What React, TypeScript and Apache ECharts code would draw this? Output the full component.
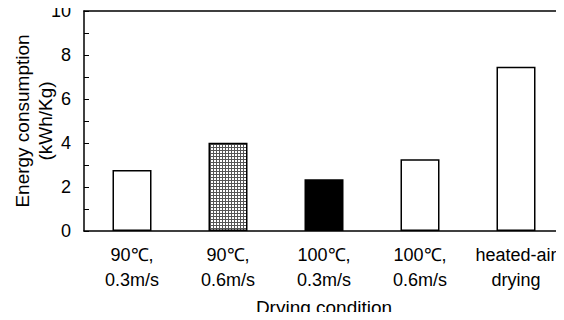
import React, { useEffect, useRef } from "react";
import * as echarts from "echarts";

const categories = ["90℃,\n0.3m/s", "90℃,\n0.6m/s", "100℃,\n0.3m/s", "100℃,\n0.6m/s", "heated-air\ndrying"];
const energy = [2.77, 4.01, 2.35, 3.26, 7.47];
const fills = ["white", "pattern", "black", "white", "white"];
const yTicks = [0, 2, 4, 6, 8, 10];

function makePattern(): any {
  const c = document.createElement("canvas");
  c.width = 3;
  c.height = 3;
  const ctx = c.getContext("2d");
  if (!ctx) return "#aaa";
  ctx.fillStyle = "#ffffff";
  ctx.fillRect(0, 0, 3, 3);
  ctx.fillStyle = "#555";
  ctx.fillRect(0, 0, 3, 1);
  ctx.fillRect(0, 0, 1, 3);
  return { image: c, repeat: "repeat" };
}

export default function App() {
  const ref = useRef<HTMLDivElement>(null);
  useEffect(() => {
    if (!ref.current) return;
    const chart = echarts.init(ref.current, null, { renderer: "svg" });
    const pattern = makePattern();
    const font = "Liberation Sans, Arial, sans-serif";
    chart.setOption({
      animation: false,
      backgroundColor: "#fff",
      grid: { left: 84, right: 0, top: 11, bottom: 89, outerBoundsMode: "none", containLabel: false },
      xAxis: [
        {
          type: "category",
          data: categories,
          axisLine: { lineStyle: { color: "#000", width: 1.5 } },
          axisTick: { show: false },
          axisLabel: { color: "#000", fontSize: 18, fontFamily: font, lineHeight: 25, margin: 11, interval: 0 },
          name: "Drying condition",
          nameLocation: "middle",
          nameGap: 67,
          nameMoveOverlap: false,
          nameTextStyle: { color: "#000", fontSize: 19, fontFamily: font },
        },
        {
          type: "category",
          position: "top",
          data: categories,
          axisLine: { lineStyle: { color: "#000", width: 1.5 } },
          axisTick: { show: false },
          axisLabel: { show: false },
        },
      ],
      yAxis: {
        type: "value",
        min: yTicks[0],
        max: yTicks[yTicks.length - 1],
        interval: 2,
        axisLine: { show: true, lineStyle: { color: "#000", width: 1.5 } },
        axisTick: { show: true, inside: true, length: 5, lineStyle: { color: "#000" } },
        minorTick: { show: true, splitNumber: 2, length: 5, lineStyle: { color: "#000" } },
        splitLine: { show: false },
        axisLabel: { color: "#000", fontSize: 18, fontFamily: font, margin: 13 },
        name: "Energy consumption\n(kWh/Kg)",
        nameLocation: "middle",
        nameGap: 27,
        nameMoveOverlap: false,
        nameTextStyle: { color: "#000", fontSize: 19, fontFamily: font, lineHeight: 23 },
      },
      series: [
        {
          type: "bar",
          barWidth: 39,
          data: energy.map((v, i) => ({
            value: v,
            itemStyle: {
              color: fills[i] === "pattern" ? pattern : fills[i],
              borderColor: "#000",
              borderWidth: 1.5,
            },
          })),
        },
      ],
    });
    return () => chart.dispose();
  }, []);
  return <div ref={ref} style={{ width: 564, height: 320, margin: -8 }} />;
}
